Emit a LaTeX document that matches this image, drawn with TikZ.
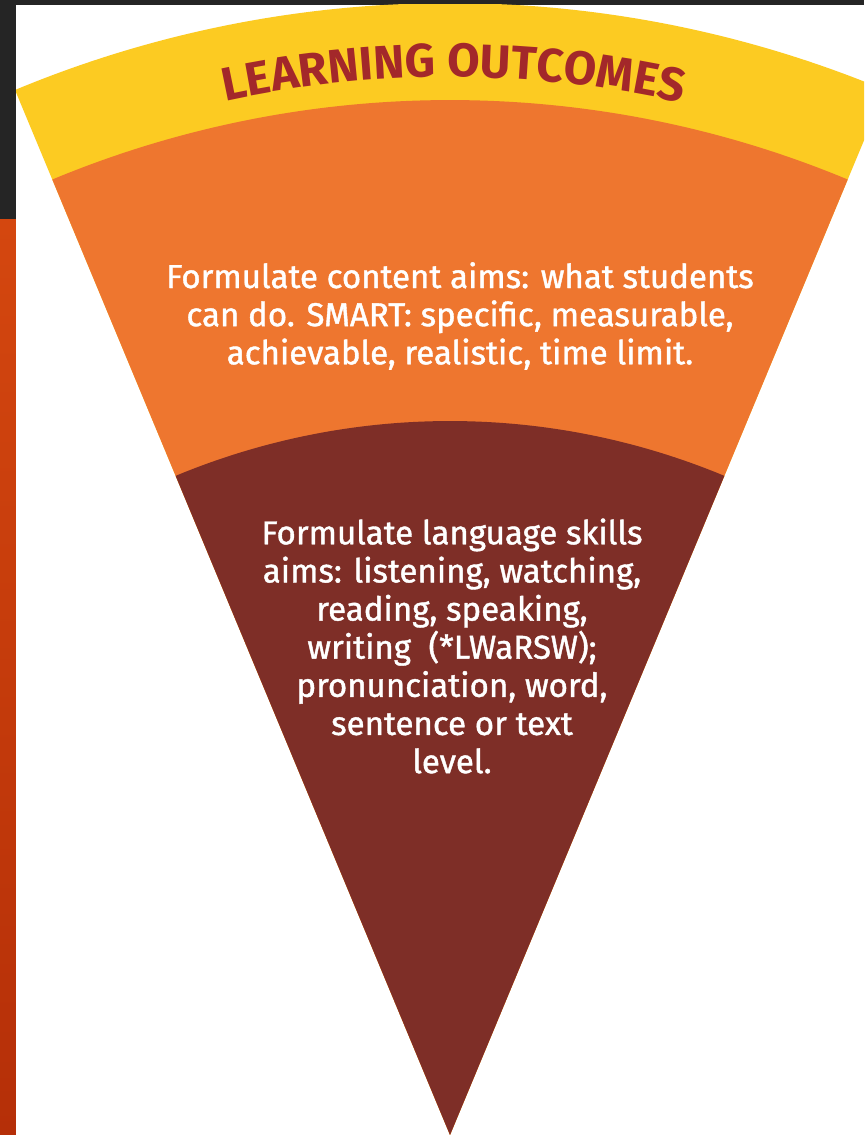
\documentclass[tikz,border=0pt]{standalone}
\usepackage{fontspec}
\setmainfont{Fira Sans}
\newfontfamily\aimsfont{Fira Sans}[FakeBold=1.2]
\usetikzlibrary{decorations.text}
\definecolor{framedark}{HTML}{252525}
\definecolor{stripetop}{HTML}{D4470F}
\definecolor{stripebot}{HTML}{B52F08}
\definecolor{bandyellow}{HTML}{FCCB22}
\definecolor{aimsorange}{HTML}{EE762F}
\definecolor{skillsbrown}{HTML}{7E2E27}
\definecolor{titlered}{HTML}{A3282A}
\tikzset{aimstext/.style={text=white,align=center,font=\aimsfont\fontsize{24.8}{28.6}\selectfont}}

\begin{document}
\begin{tikzpicture}[x=0.75pt,y=0.75pt]
  \useasboundingbox (0,0) rectangle (864,1135);
  \fill[framedark] (0,0) rectangle (864,1135);
  \shade[top color=stripetop,bottom color=stripebot] (0,0) rectangle (16,915);
  \fill[white] (16,0) rectangle (864,1130);
  \coordinate (apex) at (450,0);
  \begin{scope}
    \clip (16,0) rectangle (864,1130);
    \fill[bandyellow] (apex) -- ++(112.6:1132) arc[start angle=112.6,end angle=67.4,radius=1132] -- cycle;
    \fill[aimsorange] (apex) -- ++(112.6:1035) arc[start angle=112.6,end angle=67.4,radius=1035] -- cycle;
    \fill[skillsbrown] (apex) -- ++(112.6:714) arc[start angle=112.6,end angle=67.4,radius=714] -- cycle;
  \end{scope}
  \path[decorate,decoration={text along path,text align=center,text color=titlered,
      text={|\fontsize{35.3}{35.3}\bfseries|LEARNING OUTCOMES}}]
    ([shift={(115.8:1058)}]apex) arc[start angle=115.8,end angle=63.8,radius=1058];
  \node[aimstext] (content) at (460,819) {Formulate content aims: what students\\can do. SMART: specific, measurable,\\achievable, realistic, time limit.};
  \node[aimstext] (skills) at (452,489) {Formulate language skills\\aims: listening, watching,\\reading, speaking,\\writing~~(*LWaRSW);\\pronunciation, word,\\sentence or text\\level.};
\end{tikzpicture}
\end{document}
